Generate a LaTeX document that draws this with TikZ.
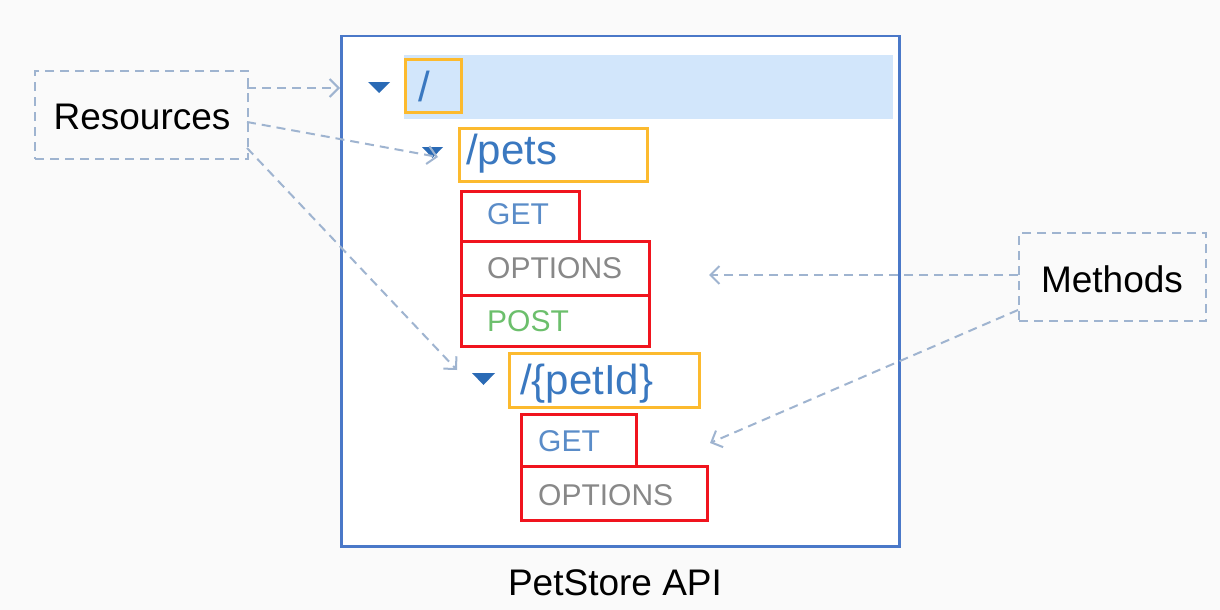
\documentclass[tikz,border=0pt]{standalone}
\usepackage{fontspec}
\setmainfont{Liberation Sans}
\usetikzlibrary{arrows.meta}
\definecolor{bgc}{HTML}{FAFAFA}
\definecolor{mainb}{HTML}{4A78C8}
\definecolor{hil}{HTML}{D2E6FB}
\definecolor{orng}{HTML}{FCBA2E}
\definecolor{rd}{HTML}{F0141E}
\definecolor{tri}{HTML}{2A6AB5}
\definecolor{pathc}{HTML}{3A78C0}
\definecolor{getc}{HTML}{5A8CC8}
\definecolor{optc}{HTML}{888888}
\definecolor{postc}{HTML}{6CBF6C}
\definecolor{dsh}{HTML}{9FB4D0}
\begin{document}
\begin{tikzpicture}[x=1pt,y=-1pt,
  obox/.style={draw=orng,line width=3pt,anchor=north west,inner sep=0pt},
  rbox/.style={draw=rd,line width=3pt,anchor=north west,inner sep=0pt},
  lbox/.style={draw=dsh,line width=2pt,dash pattern=on 9pt off 6pt,anchor=north west,inner sep=0pt,fill=bgc},
  ptxt/.style={anchor=base west,inner sep=0pt,text=pathc,font=\fontsize{42}{46}\selectfont},
  mtxt/.style={anchor=base west,inner sep=0pt,font=\fontsize{30}{34}\selectfont},
  ltxt/.style={inner sep=0pt,font=\fontsize{37}{40}\selectfont},
  darr/.style={draw=dsh,line width=2pt,dash pattern=on 9pt off 6pt,-{Straight Barb[length=9pt,width=18pt,line width=2pt]}},
  tria/.style={fill=tri}
]
\useasboundingbox (0,0) rectangle (1220,610);
\fill[bgc] (0,0) rectangle (1220,610);
% main box
\node[draw=mainb,line width=2.5pt,fill=white,anchor=north west,minimum width=558pt,minimum height=510pt,inner sep=0pt] (main) at (340,35) {};
% highlight band
\fill[hil] (404,55) rectangle (893,119);
% root
\node[obox,minimum width=56pt,minimum height=53pt] (rootb) at (404,58) {};
\node[ptxt] (roott) at (418,101) {/};
\fill[tria] (368,82) -- (390,82) -- (379,93) -- cycle;
% pets
\node[obox,minimum width=188pt,minimum height=53pt] (petsb) at (458,127) {};
\node[ptxt] (petst) at (466,164) {/pets};
\fill[tria] (422,147) -- (443,147) -- (432.5,158) -- cycle;
% methods of pets
\node[rbox,minimum width=118pt,minimum height=50pt] (get1) at (460,190) {};
\node[mtxt,text=getc] (get1t) at (487,224) {GET};
\node[rbox,minimum width=188pt,minimum height=54pt] (opt1) at (460,240) {};
\node[mtxt,text=optc] (opt1t) at (487,278) {OPTIONS};
\node[rbox,minimum width=188pt,minimum height=51pt] (post1) at (460,294) {};
\node[mtxt,text=postc] (post1t) at (487,331) {POST};
% petId
\node[obox,minimum width=190pt,minimum height=54pt] (pidb) at (508,352) {};
\node[ptxt] (pidt) at (520,394) {/\{petId\}};
\fill[tria] (472,373) -- (495,373) -- (483.5,385) -- cycle;
\node[rbox,minimum width=115pt,minimum height=52pt] (get2) at (520,413) {};
\node[mtxt,text=getc] (get2t) at (538,451) {GET};
\node[rbox,minimum width=186pt,minimum height=54pt] (opt2) at (520,465) {};
\node[mtxt,text=optc] (opt2t) at (538,505) {OPTIONS};
% caption
\node[ltxt] (cap) at (615,583) {PetStore API};
% label boxes
\node[lbox,minimum width=213pt,minimum height=88pt] (res) at (34,70) {};
\node[ltxt] (rest) at (142,117) {Resources};
\node[lbox,minimum width=187pt,minimum height=88pt] (meth) at (1018,232) {};
\node[ltxt] (metht) at (1112,279) {Methods};
% arrow endpoints
\coordinate (r1s) at (247,88);
\coordinate (r1e) at (340,88);
\coordinate (r2s) at (247,122);
\coordinate (r2e) at (438,157);
\coordinate (r3s) at (247,148);
\coordinate (r3e) at (457,370);
\coordinate (m1s) at (1018,275);
\coordinate (m1e) at (709,275);
\coordinate (m2s) at (1018,310);
\coordinate (m2e) at (710,443);
\draw[darr] (r1s) -- (r1e);
\draw[darr] (r2s) -- (r2e);
\draw[darr] (r3s) -- (r3e);
\draw[darr] (m1s) -- (m1e);
\draw[darr] (m2s) -- (m2e);
\end{tikzpicture}
\end{document}
